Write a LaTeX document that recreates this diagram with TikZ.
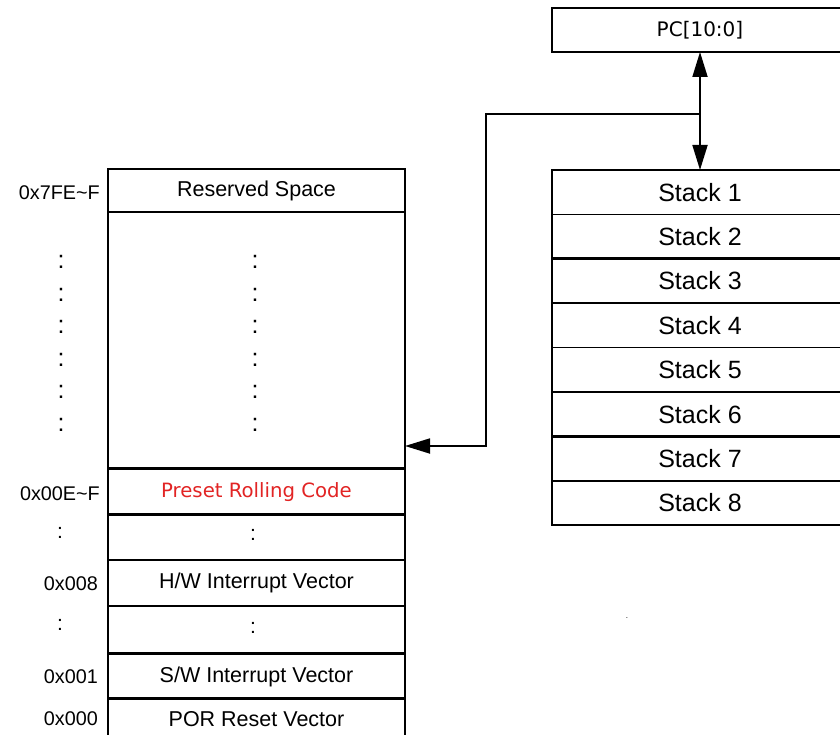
\documentclass[tikz,border=0pt]{standalone}
\usepackage{fontspec}
\setmainfont{Liberation Sans}
\newfontfamily\dejavu{DejaVu Sans}
\usetikzlibrary{arrows.meta}
\definecolor{rollred}{RGB}{226,36,36}
\begin{document}
\begin{tikzpicture}[x=1pt,y=-1pt,
  box/.style={draw, line width=1.7pt, inner sep=0pt, outer sep=0pt},
  lcell/.style={box, minimum width=297pt, font=\fontsize{21.5}{26}\selectfont},
  scell/.style={box, minimum width=296pt, minimum height=44.4pt, font=\fontsize{25}{30}\selectfont},
  addr/.style={anchor=east, inner sep=0pt, font=\fontsize{19.8}{24}\selectfont},
  vdots/.style={inner sep=0pt, font=\fontsize{25}{25}\selectfont},
  heavy/.style={line width=2.6pt},
  conn/.style={line width=1.8pt},
  tip/.style={-{Triangle[length=25pt,width=15pt]}}
]
\useasboundingbox (0,0) rectangle (840,735);
\fill[white] (0,0) rectangle (840,735);
\clip (0,0) rectangle (840,735);

% left memory map
\node[lcell, minimum height=43pt]  (res)   at (256.5,190.5) {Reserved Space};
\node[lcell, minimum height=256pt] (blank) at (256.5,340)   {};
\node[lcell, minimum height=46pt, text=rollred, font=\dejavu\fontsize{19.7}{24}\selectfont] (roll) at (256.5,492) {Preset Rolling Code};
\node[lcell, minimum height=46pt]  (d1)    at (256.5,537)   {};
\node[lcell, minimum height=46pt]  (hw)    at (256.5,583)   {H/W Interrupt Vector};
\node[lcell, minimum height=47pt]  (d2)    at (256.5,629.5) {};
\node[lcell, minimum height=45pt]  (sw)    at (256.5,676.5) {S/W Interrupt Vector};
\node[lcell, minimum height=45pt]  (por)   at (256.5,720.5) {};
\node[font=\fontsize{21.5}{26}\selectfont, inner sep=0pt] (portxt) at (256.5,719) {POR Reset Vector};
\draw[heavy] (blank.south west) -- (blank.south east);
\draw[heavy] (d1.south west) -- (d1.south east);

% dots inside the map
\foreach \i/\yy in {1/262,2/295,3/327,4/360,5/392,6/425}{
  \node[vdots] (md\i) at (255,\yy) {:};
  \node[vdots] (ld\i) at (61,\yy) {:};
}
\node[vdots, font=\fontsize{21}{21}\selectfont] (c1) at (253,535) {:};
\node[vdots, font=\fontsize{21}{21}\selectfont] (c2) at (253,628) {:};
\node[vdots, font=\fontsize{21}{21}\selectfont] (a1) at (60,533) {:};
\node[vdots, font=\fontsize{21}{21}\selectfont] (a2) at (60,625) {:};

% addresses
\node[addr] (a7fe) at (100,193) {0x7FE\textasciitilde F};
\node[addr] (a00e) at (100,494) {0x00E\textasciitilde F};
\node[addr] (a008) at (98,584) {0x008};
\node[addr] (a001) at (98,677) {0x001};
\node[addr] (a000) at (98,719) {0x000};

% PC register
\node[box, minimum width=296pt, minimum height=44pt, font=\dejavu\fontsize{20}{24}\selectfont] (pc) at (700,30) {PC[10:0]};

% stack
\foreach \i in {1,...,8}{
  \node[scell] (s\i) at (700,{192.2+44.4*(\i-1)}) {Stack \i};
}
\draw[heavy] (s2.south west) -- (s2.south east);
\draw[heavy] (s6.south west) -- (s6.south east);

% connectors
\coordinate (br) at (700,114);
\coordinate (bend) at (486,446);
\draw[conn, {Triangle[length=25pt,width=15pt]}-{Triangle[length=25pt,width=15pt]}] (pc.south) -- (s1.north);
\draw[conn, tip] (br) -| (bend) -- (bend -| blank.east);

% stray mark
\node[inner sep=0pt, font=\fontsize{8}{8}\selectfont] (stray) at (627,618) {.};
\end{tikzpicture}
\end{document}
